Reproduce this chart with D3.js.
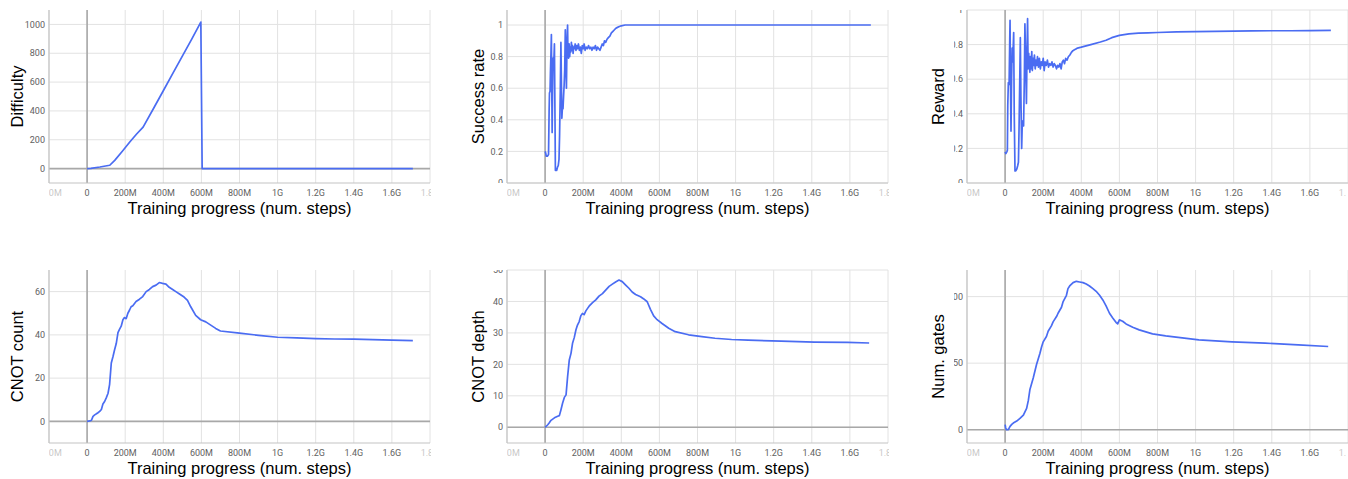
<!DOCTYPE html>
<html>
<head>
<meta charset="utf-8">
<script src="https://cdn.jsdelivr.net/npm/d3@7"></script>
<style>
body { margin: 0; background: #fff; }
svg { display: block; }
.ticklabel { font-family: Roboto, sans-serif; font-size: 9px; fill: #616161; }
.title { font-family: "Liberation Sans", Arial, sans-serif; font-size: 16.5px; fill: #000; }
</style>
</head>
<body>
<svg id="chart" width="1348" height="479"></svg>
<script>
// x values are in millions of steps
var xTicks = [-200, 0, 200, 400, 600, 800, 1000, 1200, 1400, 1600, 1800];
var xTickLabels = ["-200M", "0", "200M", "400M", "600M", "800M", "1G", "1.2G", "1.4G", "1.6G", "1.8G"];

var diffX = [0, 20, 67, 119, 145, 185, 224, 260, 294, 350, 400, 450, 500, 550, 597, 604, 1710];
var diffY = [0, 2, 11, 23, 57, 120, 184, 240, 288, 420, 540, 660, 780, 900, 1016, 0, 0];

var srX = [0, 3, 6, 12, 18, 21, 23, 26, 28, 31, 33, 35, 37, 39, 42, 45, 49, 52, 54, 57, 61, 65, 69, 73, 76, 80, 83, 85, 88, 91, 94, 97, 100, 103, 106, 109, 112, 115, 118, 120, 123, 126, 129, 132, 135, 138, 141, 144, 147, 150, 154, 158, 162, 166, 170, 175, 180, 185, 190, 195, 200, 205, 210, 216, 222, 228, 234, 240, 246, 252, 258, 264, 270, 276, 282, 288, 294, 300, 306, 312, 318, 325, 332, 340, 348, 356, 364, 372, 380, 390, 400, 420, 460, 520, 600, 800, 1000, 1200, 1400, 1600, 1710];
var srY = [0.20, 0.19, 0.17, 0.17, 0.18, 0.45, 0.57, 0.58, 0.70, 0.83, 0.94, 0.60, 0.32, 0.55, 0.79, 0.74, 0.88, 0.40, 0.08, 0.09, 0.08, 0.10, 0.11, 0.15, 0.30, 0.60, 0.89, 0.70, 0.41, 0.48, 0.47, 0.55, 0.62, 0.72, 0.97, 0.75, 0.60, 0.90, 1.00, 0.82, 0.79, 0.88, 0.80, 0.86, 0.83, 0.89, 0.84, 0.87, 0.82, 0.86, 0.85, 0.88, 0.84, 0.87, 0.85, 0.88, 0.84, 0.86, 0.82, 0.87, 0.85, 0.88, 0.84, 0.86, 0.85, 0.87, 0.85, 0.86, 0.84, 0.86, 0.85, 0.87, 0.84, 0.86, 0.85, 0.84, 0.86, 0.88, 0.87, 0.90, 0.89, 0.91, 0.92, 0.93, 0.95, 0.96, 0.97, 0.98, 0.985, 0.99, 0.995, 1.0, 1.0, 1.0, 1.0, 1.0, 1.0, 1.0, 1.0, 1.0, 1.0];

var rwX = [0, 4, 9, 12, 14, 17, 21, 24, 26, 28, 31, 34, 37, 40, 45, 48, 52, 56, 61, 66, 70, 73, 77, 80, 83, 87, 90, 94, 97, 101, 104, 108, 112, 115, 118, 121, 124, 127, 130, 133, 136, 140, 143, 147, 150, 154, 158, 162, 166, 170, 175, 180, 185, 190, 195, 200, 205, 210, 216, 222, 228, 234, 240, 246, 252, 258, 264, 270, 276, 282, 288, 294, 300, 306, 312, 318, 325, 332, 340, 348, 356, 364, 372, 380, 400, 450, 500, 530, 560, 600, 650, 700, 750, 800, 900, 1000, 1100, 1200, 1300, 1400, 1500, 1600, 1710];
var rwY = [0.18, 0.17, 0.18, 0.19, 0.45, 0.58, 0.57, 0.80, 0.94, 0.60, 0.30, 0.60, 0.78, 0.70, 0.87, 0.40, 0.07, 0.07, 0.08, 0.10, 0.12, 0.30, 0.60, 0.84, 0.50, 0.20, 0.34, 0.36, 0.33, 0.60, 0.92, 0.70, 0.46, 0.75, 0.95, 0.66, 0.75, 0.69, 0.64, 0.73, 0.66, 0.76, 0.65, 0.72, 0.68, 0.74, 0.66, 0.71, 0.68, 0.73, 0.67, 0.72, 0.66, 0.70, 0.68, 0.72, 0.65, 0.70, 0.68, 0.71, 0.67, 0.69, 0.68, 0.70, 0.67, 0.69, 0.68, 0.66, 0.68, 0.67, 0.69, 0.66, 0.70, 0.71, 0.69, 0.72, 0.71, 0.73, 0.74, 0.755, 0.765, 0.77, 0.775, 0.78, 0.785, 0.80, 0.815, 0.825, 0.84, 0.853, 0.862, 0.866, 0.868, 0.870, 0.873, 0.875, 0.877, 0.878, 0.879, 0.880, 0.880, 0.881, 0.882];

var cnX = [0, 14, 23, 31, 40, 49, 57, 66, 75, 83, 92, 101, 110, 118, 127, 136, 144, 153, 162, 170, 179, 188, 196, 205, 214, 223, 231, 240, 257, 275, 292, 310, 327, 344, 362, 379, 396, 414, 431, 449, 466, 483, 509, 527, 544, 570, 596, 623, 649, 675, 700, 800, 900, 1000, 1100, 1200, 1300, 1400, 1500, 1600, 1710];
var cnY = [0, 0.2, 0.5, 2.3, 3.0, 3.5, 4.0, 4.6, 5.5, 8.0, 9.2, 11.0, 13.0, 17.0, 27.0, 30.0, 33.0, 36.0, 41.0, 42.5, 44.0, 47.0, 48.0, 47.5, 50.0, 51.5, 53.0, 53.5, 55.4, 56.5, 57.7, 60.0, 61.0, 62.3, 63.0, 64.2, 63.8, 63.5, 62.0, 61.0, 60.0, 59.0, 57.5, 56.0, 53.0, 49.0, 47.0, 46.0, 44.5, 43.0, 41.8, 40.8, 39.8, 38.9, 38.6, 38.3, 38.1, 38.0, 37.8, 37.6, 37.3];

var cdX = [0, 14, 23, 31, 49, 66, 75, 83, 92, 101, 110, 118, 127, 136, 144, 153, 162, 170, 179, 188, 196, 205, 214, 223, 231, 249, 266, 283, 301, 318, 336, 353, 370, 388, 405, 423, 440, 457, 475, 501, 518, 536, 553, 570, 588, 614, 649, 683, 753, 823, 892, 979, 1066, 1240, 1414, 1588, 1701];
var cdY = [0, 0.8, 1.5, 2.2, 3.0, 3.5, 3.7, 5.5, 7.7, 9.5, 10.3, 16.0, 21.4, 23.5, 26.7, 28.5, 31.0, 32.5, 33.6, 35.5, 36.2, 35.8, 37.0, 37.8, 38.5, 39.6, 40.5, 41.7, 42.5, 43.6, 44.8, 45.5, 46.2, 46.8, 46.3, 45.2, 44.2, 43.0, 42.2, 41.5, 40.8, 39.9, 37.5, 35.4, 34.2, 33.0, 31.5, 30.4, 29.4, 28.8, 28.3, 27.9, 27.7, 27.4, 27.1, 27.0, 26.8];

var ngX = [0, 3, 7, 17, 26, 35, 43, 61, 78, 96, 113, 122, 130, 148, 165, 183, 191, 200, 217, 226, 243, 252, 270, 278, 296, 304, 322, 330, 339, 357, 374, 391, 409, 426, 443, 461, 478, 496, 513, 530, 548, 565, 583, 591, 600, 617, 635, 670, 704, 774, 843, 930, 1017, 1191, 1365, 1539, 1696];
var ngY = [3.8, 1.5, 0, 0, 2.5, 4.0, 5.0, 6.5, 8.5, 11.0, 16.0, 22.0, 30.0, 39.0, 49.0, 57.5, 62.0, 66.0, 70.0, 74.0, 78.0, 81.0, 85.0, 87.5, 92.0, 96.0, 101.0, 106.0, 108.0, 110.5, 111.5, 111.0, 110.5, 109.5, 108.0, 106.0, 104.0, 101.0, 97.5, 93.0, 87.5, 84.0, 80.5, 79.5, 82.5, 81.5, 79.5, 77.0, 75.0, 72.0, 70.5, 69.0, 67.5, 66.0, 65.0, 63.8, 62.5];

var panels = [
  { left: 49, top: 10, label: "Difficulty", labelX: 17, xs: diffX, ys: diffY, yDomain: [-100, 1100], yTicks: [0, 200, 400, 600, 800, 1000], fmt: d3.format("d") },
  { left: 507, top: 10, label: "Success rate", labelX: 478, xs: srX, ys: srY, yDomain: [0, 1.095], yTicks: [0, 0.2, 0.4, 0.6, 0.8, 1], fmt: d3.format("~g") },
  { left: 967, top: 10, label: "Reward", labelX: 938, xs: rwX, ys: rwY, yDomain: [0, 1.0], yTicks: [0, 0.2, 0.4, 0.6, 0.8, 1], fmt: d3.format("~g"), clipLeft: 954 },
  { left: 49, top: 270, label: "CNOT count", labelX: 17, xs: cnX, ys: cnY, yDomain: [-10, 70], yTicks: [0, 20, 40, 60], fmt: d3.format("d") },
  { left: 507, top: 270, label: "CNOT depth", labelX: 478, xs: cdX, ys: cdY, yDomain: [-5, 50], yTicks: [0, 10, 20, 30, 40, 50], fmt: d3.format("d") },
  { left: 967, top: 270, label: "Num. gates", labelX: 938, xs: ngX, ys: ngY, yDomain: [-10, 120], yTicks: [0, 50, 100], fmt: d3.format("d"), clipLeft: 954 }
];

var plotW = 381, plotH = 173;
var svg = d3.select("#chart");
var defs = svg.append("defs");

panels.forEach(function (p, i) {
  var x = d3.scaleLinear().domain([-200, 1800]).range([0, plotW]);
  var y = d3.scaleLinear().domain(p.yDomain).range([plotH, 0]);
  var g = svg.append("g").attr("transform", "translate(" + p.left + "," + p.top + ")");

  // clip for x tick labels (cut at plot edges) and y tick labels (cut at top/bottom)
  var right = Math.min(plotW + 1, 1346 - p.left);
  defs.append("clipPath").attr("id", "cx" + i)
    .append("rect").attr("x", 0).attr("y", plotH).attr("width", right).attr("height", 30);
  var cl = p.clipLeft ? p.clipLeft - p.left : -40;
  defs.append("clipPath").attr("id", "cy" + i)
    .append("rect").attr("x", cl).attr("y", 0).attr("width", -cl).attr("height", plotH);

  // grid
  g.append("g").selectAll("line").data(xTicks).enter().append("line")
    .attr("x1", function (d) { return x(d); }).attr("x2", function (d) { return x(d); })
    .attr("y1", 0).attr("y2", plotH)
    .attr("stroke", "#e2e2e2").attr("stroke-width", 1);
  g.append("g").selectAll("line").data(p.yTicks).enter().append("line")
    .attr("x1", 0).attr("x2", plotW)
    .attr("y1", function (d) { return y(d); }).attr("y2", function (d) { return y(d); })
    .attr("stroke", "#e2e2e2").attr("stroke-width", 1);

  // zero lines
  g.append("line").attr("x1", x(0)).attr("x2", x(0)).attr("y1", 0).attr("y2", plotH)
    .attr("stroke", "#a8a8a8").attr("stroke-width", 1.6);
  if (p.yDomain[0] < 0) {
    g.append("line").attr("x1", 0).attr("x2", plotW).attr("y1", y(0)).attr("y2", y(0))
      .attr("stroke", "#a8a8a8").attr("stroke-width", 1.6);
  }

  // axis frame
  g.append("line").attr("x1", 0).attr("x2", 0).attr("y1", 0).attr("y2", plotH)
    .attr("stroke", "#c4c4c4").attr("stroke-width", 1.2);
  g.append("line").attr("x1", 0).attr("x2", plotW).attr("y1", plotH).attr("y2", plotH)
    .attr("stroke", "#c4c4c4").attr("stroke-width", 1.2);

  // x tick labels
  g.append("g").attr("clip-path", "url(#cx" + i + ")")
    .selectAll("text").data(xTicks).enter().append("text")
    .attr("class", "ticklabel")
    .attr("x", function (d) { return x(d); })
    .attr("y", plotH + 13)
    .attr("text-anchor", "middle")
    .attr("opacity", function (d) { return (d < 0 || d > 1700) ? 0.35 : 1; })
    .text(function (d, j) { return xTickLabels[j]; });

  // y tick labels
  g.append("g").attr("clip-path", "url(#cy" + i + ")")
    .selectAll("text").data(p.yTicks).enter().append("text")
    .attr("class", "ticklabel")
    .attr("x", -4)
    .attr("y", function (d) { return y(d); })
    .attr("dy", "0.35em")
    .attr("text-anchor", "end")
    .text(function (d) { return p.fmt(d); });

  // series line
  var pts = p.xs.map(function (v, j) { return [v, p.ys[j]]; });
  var line = d3.line()
    .x(function (d) { return x(d[0]); })
    .y(function (d) { return y(d[1]); });
  g.append("path").datum(pts)
    .attr("d", line)
    .attr("fill", "none")
    .attr("stroke", "#4a6cf2")
    .attr("stroke-width", 1.7)
    .attr("stroke-linejoin", "round");

  // titles
  svg.append("text").attr("class", "title")
    .attr("x", p.left + plotW / 2).attr("y", p.top + 204)
    .attr("text-anchor", "middle")
    .text("Training progress (num. steps)");
  svg.append("text").attr("class", "title")
    .attr("transform", "translate(" + (p.labelX + 6) + "," + (p.top + plotH / 2) + ") rotate(-90)")
    .attr("text-anchor", "middle")
    .text(p.label);
});
</script>
</body>
</html>
